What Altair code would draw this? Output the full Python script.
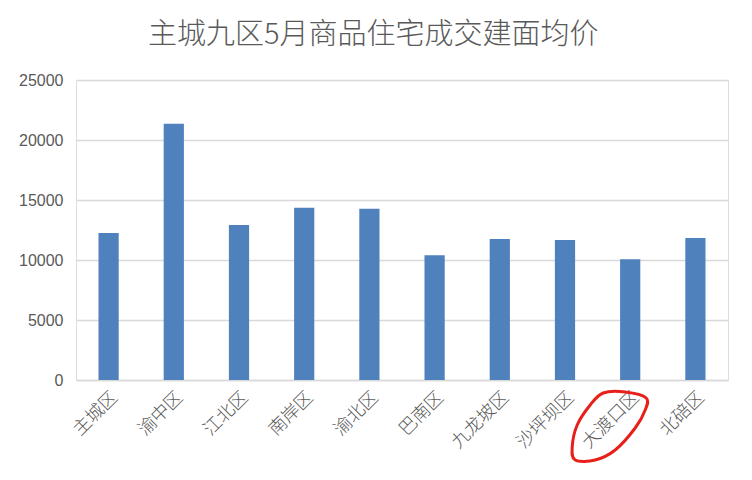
import altair as alt
import pandas as pd

districts = ["主城区", "渝中区", "江北区", "南岸区", "渝北区", "巴南区", "九龙坡区", "沙坪坝区", "大渡口区", "北碚区"]
prices = [12250, 21350, 12920, 14350, 14270, 10400, 11750, 11660, 10060, 11830]
y_ticks = [0, 5000, 10000, 15000, 20000, 25000]
title_text = "主城九区5月商品住宅成交建面均价"
highlight = ["大渡口区"]

df = pd.DataFrame({"district": districts, "price": prices})

# hand-drawn ellipse outline (unit coordinates, shifted left of band centre)
pts = [(-0.125, -0.85), (0.425, -0.875), (0.95, -0.725), (0.925, -0.425), (0.675, 0.025),
       (0.175, 0.575), (-0.325, 0.825), (-0.825, 0.825), (-0.9, 0.5), (-0.775, -0.05),
       (-0.45, -0.55)]
shift = -0.55
pts = [(x + shift, y) for x, y in pts]
n = len(pts)
path = "M{:.3f},{:.3f}".format(*pts[0])
for i in range(n):
    p0 = pts[(i - 1) % n]
    p1 = pts[i]
    p2 = pts[(i + 1) % n]
    p3 = pts[(i + 2) % n]
    c1 = (p1[0] + (p2[0] - p0[0]) / 6, p1[1] + (p2[1] - p0[1]) / 6)
    c2 = (p2[0] - (p3[0] - p1[0]) / 6, p2[1] - (p3[1] - p1[1]) / 6)
    path += " C{:.3f},{:.3f} {:.3f},{:.3f} {:.3f},{:.3f}".format(c1[0], c1[1], c2[0], c2[1], p2[0], p2[1])
path += " Z"

x_enc = alt.X(
    "district:N",
    sort=districts,
    scale=alt.Scale(paddingInner=0.69, paddingOuter=0.345),
    axis=alt.Axis(
        title=None,
        labelAngle=-45,
        labelFontSize=18,
        labelFont="Noto Sans CJK SC",
        labelFontWeight=300,
        labelColor="#595959",
        labelPadding=8,
        ticks=False,
        domain=True,
        domainColor="#D9D9D9",
        domainWidth=1.5,
        grid=False,
    ),
)

bars = alt.Chart(df).mark_bar(color="#4F81BD").encode(
    x=x_enc,
    y=alt.Y(
        "price:Q",
        scale=alt.Scale(domain=[0, 25000], nice=False),
        axis=alt.Axis(
            title=None,
            values=y_ticks,
            format="d",
            labelFontSize=16,
            labelFont="Liberation Sans",
            labelColor="#595959",
            labelPadding=13,
            ticks=False,
            domain=False,
            gridColor="#D9D9D9",
            gridWidth=1.5,
        ),
    ),
)

circle_df = pd.DataFrame({"district": highlight})
circle = alt.Chart(circle_df).mark_point(
    shape=path, size=6400, filled=False, stroke="#E8201A", strokeWidth=3, opacity=1, clip=False
).encode(
    x=alt.X("district:N", sort=districts),
    y=alt.value(347),
)

chart = (
    alt.layer(bars, circle)
    .properties(
        width=652,
        height=300,
        title=alt.TitleParams(
            title_text,
            fontSize=29,
            font="Noto Sans CJK SC",
            fontWeight=300,
            color="#595959",
            anchor="middle",
            frame="bounds",
            offset=22,
        ),
        autosize=alt.AutoSizeParams(type="none"),
        padding={"left": 68, "top": 72, "right": 16, "bottom": 92},
    )
    .configure_view(stroke=None)
    .configure(background="white")
)

chart.save("out.html", embed_options={"renderer": "svg", "actions": False})
